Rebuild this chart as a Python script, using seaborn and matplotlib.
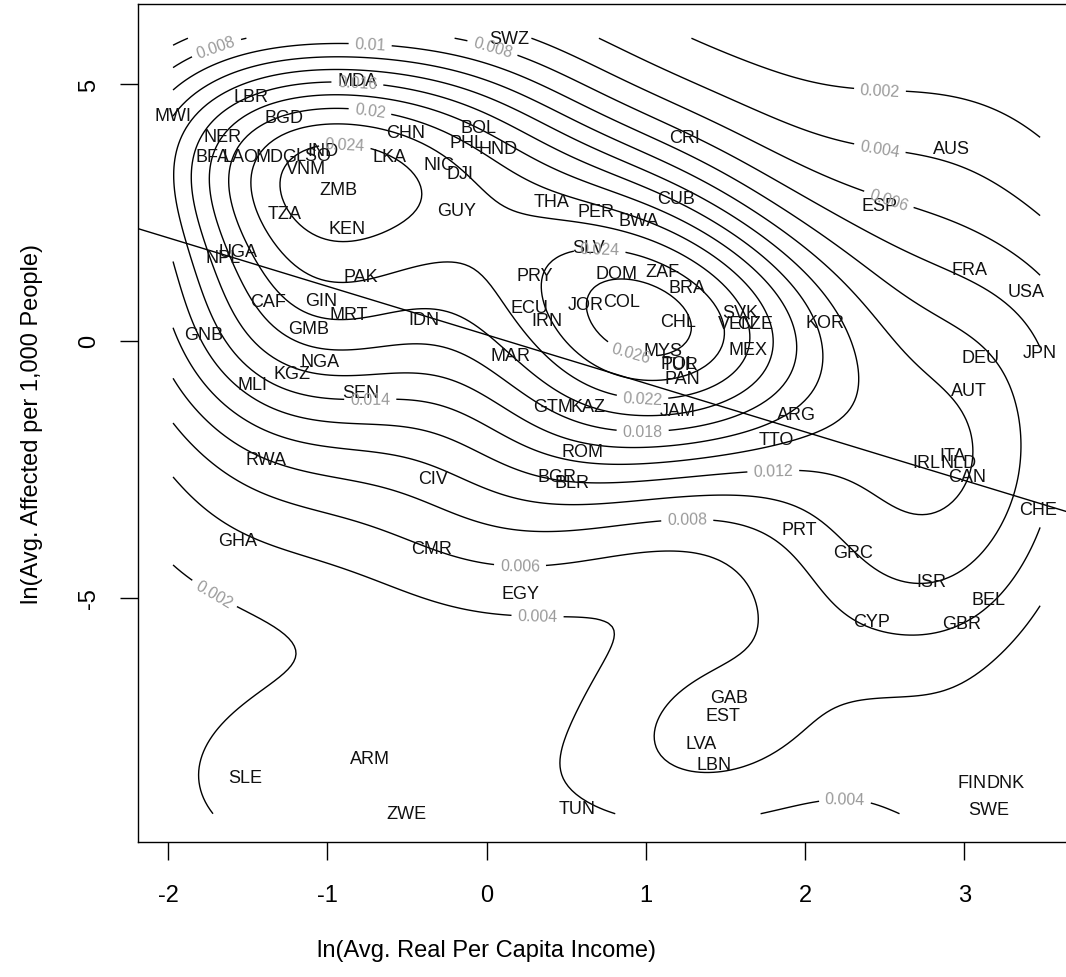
import numpy as np
import pandas as pd
import matplotlib
matplotlib.use("Agg")
import matplotlib.pyplot as plt
import seaborn as sns

# Country codes with log income (x) and log affected per 1,000 people (y)
codes = ["MWI", "LBR", "MDA", "SWZ", "BGD", "NER", "BFA", "LAO", "MDG", "LSO",
         "IND", "VNM", "CHN", "LKA", "NIC", "DJI", "BOL", "PHL", "HND", "ZMB",
         "TZA", "KEN", "GUY", "THA", "PER", "BWA", "CUB", "CRI", "AUS", "ESP",
         "UGA", "NPL", "PAK", "SLV", "PRY", "DOM", "ZAF", "BRA", "CAF", "GIN",
         "MRT", "IDN", "ECU", "JOR", "COL", "IRN", "CHL", "SVK", "VEN", "CZE",
         "KOR", "FRA", "USA", "GNB", "GMB", "MAR", "MYS", "POL", "TUR", "MEX",
         "DEU", "JPN", "NGA", "KGZ", "MLI", "SEN", "PAN", "AUT", "GTM", "KAZ",
         "JAM", "ARG", "TTO", "ROM", "RWA", "CIV", "BGR", "BLR", "ITA", "IRL",
         "NLD", "CAN", "CHE", "PRT", "GHA", "CMR", "GRC", "EGY", "ISR", "BEL",
         "CYP", "GBR", "GAB", "EST", "LVA", "LBN", "SLE", "ARM", "ZWE", "TUN",
         "FIN", "DNK", "SWE"]

log_income = [-1.968, -1.480, -0.807, 0.141, -1.273, -1.660, -1.723, -1.547, -1.320, -1.089,
              -1.026, -1.133, -0.505, -0.608, -0.300, -0.166, -0.053, -0.120, 0.072, -0.930,
              -1.267, -0.876, -0.190, 0.405, 0.685, 0.957, 1.190, 1.240, 2.916, 2.464,
              -1.560, -1.654, -0.790, 0.637, 0.304, 0.817, 1.106, 1.257, -1.372, -1.041,
              -0.865, -0.392, 0.267, 0.623, 0.849, 0.380, 1.202, 1.592, 1.570, 1.686,
              2.125, 3.031, 3.387, -1.773, -1.114, 0.148, 1.106, 1.208, 1.215, 1.643,
              3.098, 3.475, -1.047, -1.221, -1.472, -0.790, 1.232, 3.025, 0.418, 0.637,
              1.202, 1.943, 1.822, 0.604, -1.384, -0.336, 0.440, 0.535, 2.926, 2.763,
              2.962, 3.014, 3.464, 1.964, -1.560, -0.348, 2.303, 0.210, 2.795, 3.150,
              2.418, 2.983, 1.524, 1.483, 1.347, 1.430, -1.518, -0.729, -0.503, 0.566,
              3.045, 3.258, 3.150]

log_affected = [4.38, 4.75, 5.06, 5.89, 4.34, 3.97, 3.58, 3.58, 3.58, 3.60,
                3.70, 3.35, 4.05, 3.58, 3.44, 3.25, 4.16, 3.87, 3.74, 2.94,
                2.47, 2.18, 2.53, 2.72, 2.51, 2.35, 2.78, 3.95, 3.74, 2.63,
                1.74, 1.63, 1.26, 1.81, 1.28, 1.32, 1.35, 1.03, 0.77, 0.785,
                0.506, 0.41, 0.66, 0.70, 0.765, 0.40, 0.37, 0.56, 0.33, 0.33,
                0.36, 1.39, 0.96, 0.117, 0.233, -0.29, -0.19, -0.43, -0.46, -0.16,
                -0.32, -0.22, -0.41, -0.636, -0.85, -1.00, -0.73, -0.97, -1.28, -1.28,
                -1.36, -1.43, -1.91, -2.15, -2.30, -2.67, -2.63, -2.75, -2.23, -2.36,
                -2.36, -2.63, -3.28, -3.66, -3.885, -4.03, -4.11, -4.91, -4.69, -5.04,
                -5.46, -5.49, -6.93, -7.28, -7.84, -8.24, -8.50, -8.13, -9.20, -9.09,
                -8.60, -8.60, -9.12]

df = pd.DataFrame({"code": codes, "income": log_income, "affected": log_affected})

x_ticks = [-2, -1, 0, 1, 2, 3]
y_ticks = [-5, 0, 5]


def bandwidth_nrd(v):
    q25, q75 = np.percentile(v, [25, 75])
    return 4 * 1.06 * min(np.std(v, ddof=1), (q75 - q25) / 1.34) * len(v) ** (-0.2)


def kde2d(x, y, n=200):
    """Bivariate Gaussian kernel density on a regular grid spanning the data."""
    gx = np.linspace(x.min(), x.max(), n)
    gy = np.linspace(y.min(), y.max(), n)
    hx = bandwidth_nrd(x) / 4
    hy = bandwidth_nrd(y) / 4
    ux = (gx[:, None] - x[None, :]) / hx
    uy = (gy[:, None] - y[None, :]) / hy
    phi = lambda u: np.exp(-0.5 * u ** 2) / np.sqrt(2 * np.pi)
    z = phi(ux) @ phi(uy).T / (len(x) * hx * hy)
    return gx, gy, z.T


sns.set_theme(style="ticks")
plt.rcParams["font.family"] = ["Liberation Sans", "DejaVu Sans"]

XLIM = (-2.188, 3.694)
YLIM = (-9.75, 6.556)

fig = plt.figure(figsize=(10.66, 9.78), dpi=100)
ax = fig.add_axes([138 / 1066, 135 / 978, 937 / 1066, 838 / 978])
ax.set_xlim(*XLIM)
ax.set_ylim(*YLIM)

# density contours with inline level labels
xv = df["income"].to_numpy()
yv = df["affected"].to_numpy()
gx, gy, z = kde2d(xv, yv)
levels = np.arange(0.002, z.max(), 0.002)
cs = ax.contour(gx, gy, z, levels=levels, colors="black", linewidths=1.0)
label_spots = [(-1.70, 5.74), (0.05, 5.84), (-0.73, 5.80), (-0.81, 5.06), (-0.73, 4.51),
               (-0.89, 3.77), (2.47, 4.90), (2.47, 3.77), (2.52, 2.70), (0.71, 1.73),
               (0.92, -0.10), (0.98, -1.05), (0.98, -1.73), (-0.73, -1.15), (1.80, -2.53),
               (1.26, -3.50), (0.21, -4.38), (0.32, -5.37), (-1.69, -4.82), (2.25, -8.97)]
ax.clabel(cs, inline=True, fontsize=11.5, colors="#9a9a9a",
          fmt=lambda v: f"{v:g}", manual=label_spots, inline_spacing=6)

# least-squares line across the full plot width
sns.regplot(data=df, x="income", y="affected", scatter=False, ci=None, truncate=False,
            color="black", line_kws={"linewidth": 1.0}, ax=ax)
ax.set_xlim(*XLIM)
ax.set_ylim(*YLIM)

for _, r in df.iterrows():
    ax.text(r["income"], r["affected"], r["code"], ha="center", va="center",
            fontsize=13, color="#111111")

ax.set_xticks(x_ticks)
ax.set_yticks(y_ticks)
ax.set_xticklabels([str(t) for t in x_ticks])
ax.set_yticklabels([str(t) for t in y_ticks], rotation=90, va="center")
ax.tick_params(axis="both", direction="out", length=13, width=1.0, labelsize=17,
               color="black", labelcolor="black")
ax.tick_params(axis="x", pad=17)
ax.tick_params(axis="y", pad=14)
for s in ax.spines.values():
    s.set_visible(True)
    s.set_color("black")
    s.set_linewidth(1.0)

ax.set_xlabel("ln(Avg. Real Per Capita Income)", fontsize=17, color="black")
ax.set_ylabel("ln(Avg. Affected per 1,000 People)", fontsize=17, color="black")
ax.xaxis.set_label_coords((486.5 - 138) / 937, -(940 - 843) / 838)
ax.yaxis.set_label_coords(-(138 - 43) / 937, 0.5)

fig.savefig("out.png", dpi=100)
